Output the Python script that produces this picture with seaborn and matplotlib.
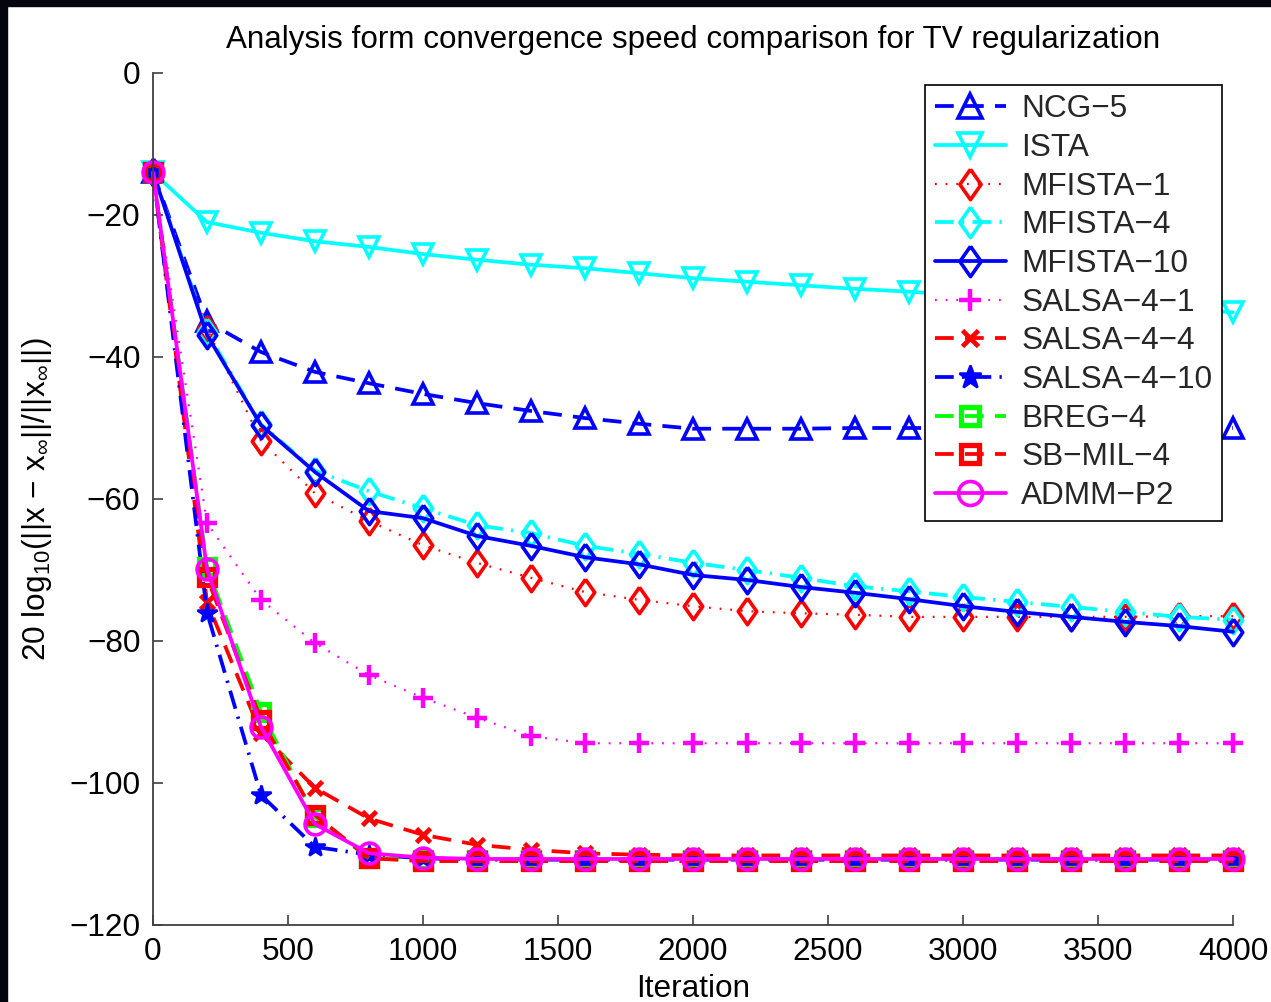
import numpy as np
import pandas as pd
import matplotlib
matplotlib.use("Agg")
import matplotlib.pyplot as plt
import seaborn as sns
from matplotlib.patches import Rectangle

# ---------------- data ----------------
iterations = [0, 200, 400, 600, 800, 1000, 1200, 1400, 1600, 1800, 2000,
              2200, 2400, 2600, 2800, 3000, 3200, 3400, 3600, 3800, 4000]

ncg_5 = [-14.0, -35.0, -39.3, -42.1, -43.7, -45.2, -46.5, -47.6, -48.6, -49.4, -50.1,
         -50.1, -50.1, -50.0, -50.0, -50.0, -50.0, -50.0, -50.0, -50.0, -50.0]
ista = [-14.0, -21.0, -22.5, -23.7, -24.5, -25.5, -26.3, -27.0, -27.5, -28.2, -28.9,
        -29.4, -29.9, -30.4, -30.8, -31.3, -31.8, -32.3, -32.8, -33.2, -33.7]
mfista_1 = [-14.0, -36.0, -51.8, -59.2, -63.1, -66.5, -69.0, -71.1, -73.1, -74.2, -75.1,
            -75.8, -76.1, -76.3, -76.6, -76.6, -76.6, -76.6, -76.6, -76.5, -76.5]
mfista_4 = [-14.0, -36.5, -49.5, -56.0, -58.9, -61.3, -63.7, -64.8, -66.6, -67.7, -69.0,
            -70.0, -71.1, -72.3, -73.0, -73.8, -74.5, -75.2, -75.9, -76.6, -77.0]
mfista_10 = [-14.0, -36.9, -49.6, -56.2, -61.7, -62.7, -65.2, -66.6, -68.2, -69.2, -70.7,
             -71.4, -72.4, -73.2, -74.1, -75.1, -75.9, -76.6, -77.3, -77.9, -78.7]
salsa_4_1 = [-14.0, -63.4, -74.2, -80.3, -84.8, -88.0, -90.8, -93.4, -94.4, -94.4, -94.4,
             -94.4, -94.4, -94.4, -94.4, -94.4, -94.4, -94.4, -94.4, -94.4, -94.4]
salsa_4_4 = [-14.0, -74.5, -93.0, -100.7, -105.0, -107.3, -108.7, -109.4, -109.9, -110.1, -110.2,
             -110.2, -110.2, -110.2, -110.2, -110.2, -110.2, -110.2, -110.2, -110.2, -110.2]
salsa_4_10 = [-14.0, -76.0, -101.7, -109.0, -110.1, -110.6, -110.8, -110.8, -110.8, -110.8, -110.8,
              -110.8, -110.8, -110.8, -110.8, -110.8, -110.8, -110.8, -110.8, -110.8, -110.8]
breg_4 = [-14.0, -69.6, -90.0, -104.8, -110.6, -110.8, -110.8, -110.8, -110.8, -110.8, -110.8,
          -110.8, -110.8, -110.8, -110.8, -110.8, -110.8, -110.8, -110.8, -110.8, -110.8]
sb_mil_4 = [-14.0, -71.0, -91.1, -104.5, -110.6, -111.0, -111.0, -111.0, -111.0, -111.0, -111.0,
            -111.0, -111.0, -111.0, -111.0, -111.0, -111.0, -111.0, -111.0, -111.0, -111.0]
admm_p2 = [-14.0, -69.9, -92.1, -105.8, -109.9, -110.5, -110.7, -110.7, -110.7, -110.7, -110.7,
           -110.7, -110.7, -110.7, -110.7, -110.7, -110.7, -110.7, -110.7, -110.7, -110.7]

x_ticks = [0, 500, 1000, 1500, 2000, 2500, 3000, 3500, 4000]
y_ticks = [0, -20, -40, -60, -80, -100, -120]

title = "Analysis form convergence speed comparison for TV regularization"
x_label = "Iteration"
y_label = r"20 log$_{10}$(||x $-$ x$_{\infty}$||/||x$_{\infty}$||)"

# ---------------- styles ----------------
diamond = [(0, 1), (0.7, 0), (0, -1), (-0.7, 0), (0, 1)]
LW = 2.7
MEW = 2.6
DASH = (0, (5.0, 3.0))
DOT = (0, (0.8, 4.0))
DASHDOT = (0, (5.0, 2.2, 0.6, 2.2))
series = [
    ("NCG\u22125", ncg_5, "#0000ff", DASH, LW, "^", 15, "none", MEW),
    ("ISTA", ista, "#00ffff", "-", LW, "v", 15, "none", MEW),
    ("MFISTA\u22121", mfista_1, "#ff0000", DOT, 1.6, diamond, 19, "none", MEW),
    ("MFISTA\u22124", mfista_4, "#00ffff", DASHDOT, LW, diamond, 19, "none", MEW),
    ("MFISTA\u221210", mfista_10, "#0000ff", "-", LW, diamond, 19, "none", MEW),
    ("SALSA\u22124\u22121", salsa_4_1, "#ff00ff", DOT, 1.6, "+", 14, "#ff00ff", 3.2),
    ("SALSA\u22124\u22124", salsa_4_4, "#ff0000", DASH, LW, "x", 10, "#ff0000", 3.4),
    ("SALSA\u22124\u221210", salsa_4_10, "#0000ff", DASHDOT, LW, "*", 15, "#0000ff", 1.8),
    ("BREG\u22124", breg_4, "#00ff00", DASH, LW, "s", 11, "none", 3.8),
    ("SB\u2212MIL\u22124", sb_mil_4, "#ff0000", DASH, LW, "s", 11, "none", 3.8),
    ("ADMM\u2212P2", admm_p2, "#ff00ff", "-", LW, "o", 15, "none", MEW),
]

# ---------------- figure ----------------
sns.set_theme(style="ticks")
plt.rcParams["font.family"] = ["Liberation Sans", "DejaVu Sans"]
plt.rcParams["mathtext.fontset"] = "custom"
plt.rcParams["mathtext.rm"] = "Liberation Sans"
plt.rcParams["mathtext.it"] = "Liberation Sans"

FS = 22.7
fig = plt.figure(figsize=(12.71, 10.02), dpi=100, facecolor="white")
ax = fig.add_axes([153 / 1271, 1 - 925 / 1002, (1233 - 153) / 1271, (925 - 73) / 1002])

for name, vals, color, ls, lw, marker, ms, mfc, mew in series:
    df = pd.DataFrame({"Iteration": iterations, "value": vals})
    sns.lineplot(data=df, x="Iteration", y="value", ax=ax, label=name,
                 color=color, estimator=None, sort=False)
    line = ax.lines[-1]
    line.set_linewidth(lw)
    line.set_linestyle(ls)
    line.set_marker(marker)
    line.set_markersize(ms)
    line.set_markerfacecolor(mfc)
    line.set_markeredgecolor(color)
    line.set_markeredgewidth(mew)
    line.set_dash_capstyle("butt")
    line.set_clip_on(False)

ax.set_xlim(0, 4000)
ax.set_ylim(-120, 0)
ax.set_xticks(x_ticks)
ax.set_yticks(y_ticks)
ax.set_xticklabels([str(t) for t in x_ticks])
ax.set_yticklabels([str(t).replace("-", "\u2212") for t in y_ticks])

ax.tick_params(direction="in", length=7, width=1.2, color="#404040",
               labelsize=FS, labelcolor="black", pad=9)
for side in ["top", "right"]:
    ax.spines[side].set_visible(False)
for side in ["left", "bottom"]:
    ax.spines[side].set_color("#404040")
    ax.spines[side].set_linewidth(1.3)
ax.set_facecolor("white")

ax.set_title(title, fontsize=22.6, pad=18, color="black")
ax.set_xlabel(x_label, fontsize=FS, labelpad=5, color="black")
ax.set_ylabel(y_label, fontsize=FS, labelpad=11, color="black")

leg = ax.legend(loc="upper right", bbox_to_anchor=(1222 / 1271, 1 - 85 / 1002),
                bbox_transform=fig.transFigure, fontsize=FS, frameon=True,
                fancybox=False, edgecolor="black", framealpha=1,
                handlelength=2.25, handletextpad=0.5, labelspacing=0.275,
                borderpad=0.3, borderaxespad=0, markerscale=1.15)
leg.get_frame().set_linewidth(1.2)
leg.set_zorder(20)

# dark border of the original screenshot
fig.add_artist(Rectangle((0, 1 - 6 / 1002), 1, 6 / 1002, transform=fig.transFigure,
                         color="#05050f", zorder=30))
fig.add_artist(Rectangle((0, 0), 7 / 1271, 1, transform=fig.transFigure,
                         color="#05050f", zorder=30))

fig.savefig("out.png", dpi=100, facecolor="white")
